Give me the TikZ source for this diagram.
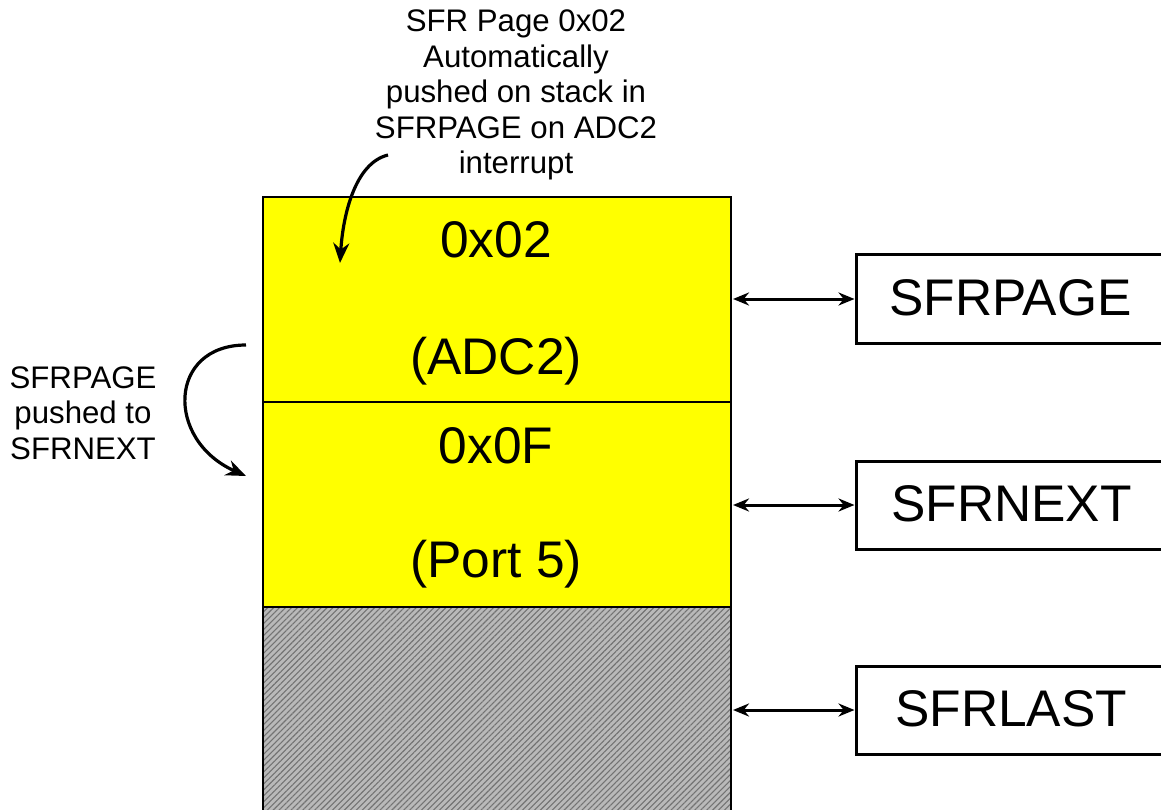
\documentclass[tikz,border=0pt]{standalone}
\usepackage{fontspec}
\setmainfont{Liberation Sans}
\usetikzlibrary{arrows.meta,patterns.meta}
\definecolor{yel}{RGB}{255,255,0}
\begin{document}
\begin{tikzpicture}[x=1pt,y=-1pt,
  cell/.style={draw=black,line width=2.5pt,fill=yel,minimum width=468pt,inner sep=0pt,outer sep=0pt},
  hatched/.style={fill=none,preaction={fill=gray!55},
    preaction={pattern={Lines[angle=45,distance=4.2pt,line width=1.1pt]},pattern color=black!55}},
  big/.style={font=\fontsize{51.5}{60}\selectfont,inner sep=0pt},
  small/.style={font=\fontsize{31.2}{35.5}\selectfont,align=center,inner sep=0pt},
  reg/.style={draw=black,line width=3pt,fill=white,minimum width=330pt,minimum height=88pt,inner sep=0pt,outer sep=0pt},
  dbl/.style={{Stealth[length=16pt,width=13pt]}-{Stealth[length=16pt,width=13pt]},line width=3pt,shorten <=2pt,shorten >=1.5pt},
  curv/.style={-{Stealth[length=20pt,width=16pt]},line width=3.2pt}]
\useasboundingbox (0,0) rectangle (1161,810);
\clip (0,0) rectangle (1161,810);
% stack
\node[cell,minimum height=205pt] (c1) at (497,299.5) {};
\node[cell,minimum height=205pt] (c2) at (497,504.5) {};
\node[cell,hatched,minimum height=215pt] (c3) at (497,714.5) {};
\node[big] (t1) at (496,240) {0x02};
\node[big] (t2) at (496,361) {(ADC2)};
\node[big] (t3) at (496,446) {0x0F};
\node[big] (t4) at (496,564) {(Port 5)};
% registers
\node[reg] (r1) at (1021,299) {};
\node[reg] (r2) at (1021,505) {};
\node[reg] (r3) at (1021,710) {};
\node[big,anchor=west] (l1) at (889,298) {SFRPAGE};
\node[big,anchor=west] (l2) at (891,504) {SFRNEXT};
\node[big,anchor=west] (l3) at (895,709) {SFRLAST};
\draw[dbl] (c1.east |- r1.west) -- (r1.west);
\draw[dbl] (c2.east |- r2.west) -- (r2.west);
\draw[dbl] (c3.east |- r3.west) -- (r3.west);
% annotations
\node[small] (top) at (516,95) {SFR Page 0x02\\Automatically\\pushed on stack in\\SFRPAGE on ADC2\\interrupt};
\node[small] (left) at (83,413) {SFRPAGE\\pushed to\\SFRNEXT};
\coordinate (s1) at (388,155);
\coordinate (e1) at (340,263);
\draw[curv] (s1) .. controls (355,163) and (343,215) .. (e1);
\coordinate (s2) at (246,345);
\coordinate (e2) at (246,476);
\draw[curv] (s2) .. controls (168,345) and (165,440) .. (e2);
\end{tikzpicture}
\end{document}
